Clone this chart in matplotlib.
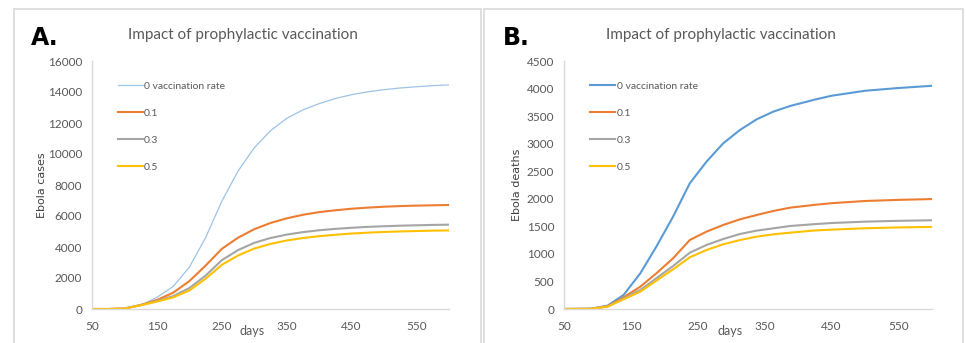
import matplotlib
matplotlib.use("Agg")
import matplotlib.pyplot as plt
from matplotlib.patches import Rectangle

plt.rcParams['font.family'] = ['Lato', 'DejaVu Sans']

# ---- data ----
series_labels = ['0 vaccination rate', '0.1', '0.3', '0.5']

days_a = [50, 75, 100, 125, 150, 175, 200, 225, 250, 275, 300, 325, 350, 375, 400,
          425, 450, 475, 500, 525, 550, 575, 600]
cases_0 = [0, 0, 30, 230, 750, 1450, 2700, 4600, 6950, 8900, 10400, 11500, 12300, 12850,
           13250, 13580, 13830, 14010, 14150, 14260, 14340, 14410, 14460]
cases_1 = [0, 0, 30, 260, 580, 1050, 1800, 2800, 3880, 4600, 5150, 5550, 5850, 6080,
           6250, 6370, 6470, 6540, 6600, 6640, 6670, 6690, 6710]
cases_3 = [0, 0, 30, 250, 520, 830, 1350, 2150, 3150, 3800, 4270, 4580, 4800, 4960,
           5080, 5170, 5240, 5300, 5340, 5375, 5400, 5425, 5440]
cases_5 = [0, 0, 25, 240, 480, 750, 1200, 1950, 2850, 3450, 3900, 4200, 4420, 4580,
           4700, 4790, 4870, 4925, 4970, 5005, 5030, 5055, 5070]

days_b = [50, 90, 115, 139, 164, 188, 213, 238, 263, 288, 313, 338, 363, 388,
          425, 450, 500, 550, 600]
deaths_0 = [0, 5, 60, 254, 647, 1131, 1676, 2281, 2674, 3007, 3249, 3442, 3582, 3684,
            3800, 3870, 3960, 4010, 4050]
deaths_1 = [0, 3, 50, 212, 405, 647, 920, 1252, 1404, 1525, 1627, 1706, 1779, 1839,
            1890, 1920, 1960, 1980, 1995]
deaths_3 = [0, 3, 45, 194, 345, 557, 780, 1022, 1162, 1270, 1361, 1422, 1464, 1506,
            1540, 1560, 1585, 1600, 1610]
deaths_5 = [0, 3, 42, 175, 315, 514, 720, 938, 1071, 1174, 1252, 1313, 1355, 1385,
            1425, 1440, 1465, 1480, 1490]

x_ticks = [50, 150, 250, 350, 450, 550]

colors = ['#5B9BD5', '#ED7D31', '#A5A5A5', '#FFC000']
grey_txt = '#595959'
spine_col = '#D9D9D9'

fig = plt.figure(figsize=(9.66, 3.43), dpi=100)

# panel frames
fig.patches.append(Rectangle((14 / 966, -0.05), 467 / 966, 1.05 - 9 / 343,
                             transform=fig.transFigure, fill=False,
                             edgecolor=spine_col, linewidth=1.2))
fig.patches.append(Rectangle((484 / 966, -0.05), 479 / 966, 1.05 - 9 / 343,
                             transform=fig.transFigure, fill=False,
                             edgecolor=spine_col, linewidth=1.2))


def setup_axes(rect, ymax, ystep, ylabel, ylab_x, letter, letter_x, title_x, days_x):
    ax = fig.add_axes(rect)
    ax.set_xlim(50, 600)
    ax.set_ylim(0, ymax)
    ax.set_xticks(x_ticks)
    ax.set_yticks(range(0, ymax + 1, ystep))
    for s in ['top', 'right']:
        ax.spines[s].set_visible(False)
    for s in ['left', 'bottom']:
        ax.spines[s].set_color(spine_col)
        ax.spines[s].set_linewidth(1.0)
    ax.tick_params(length=0, labelsize=8.5, labelcolor=grey_txt)
    ax.tick_params(axis='x', pad=9)
    ax.tick_params(axis='y', pad=7)
    ax.set_ylabel(ylabel, fontsize=8, color='#404040', family=['DejaVu Sans'])
    ax.yaxis.set_label_coords(ylab_x, 0.5)
    fig.text(letter_x / 966, 1 - 38 / 343, letter, fontsize=17, fontweight='bold',
             va='center', ha='left', family=['DejaVu Sans'])
    fig.text(title_x / 966, 1 - 35 / 343, 'Impact of prophylactic vaccination',
             fontsize=11, color=grey_txt, va='center', ha='center')
    fig.text(days_x / 966, 1 - 331 / 343, 'days', fontsize=9, color=grey_txt,
             va='center', ha='center')
    return ax


ax_a = setup_axes([92 / 966, 34 / 343, 357 / 966, 248 / 343], 16000, 2000,
                  'Ebola cases', -0.126, 'A.', 31, 243, 252)
ax_b = setup_axes([564 / 966, 34 / 343, 368 / 966, 248 / 343], 4500, 500,
                  'Ebola deaths', -0.114, 'B.', 503, 721, 730)

for ys, c, lab in zip([cases_0, cases_1, cases_3, cases_5], colors, series_labels):
    if lab == series_labels[0]:
        ax_a.plot(days_a, ys, color='#9DC3E6', linewidth=0.9, label=lab)
    else:
        ax_a.plot(days_a, ys, color=c, linewidth=1.5, label=lab)

for ys, c, lab in zip([deaths_0, deaths_1, deaths_3, deaths_5], colors, series_labels):
    ax_b.plot(days_b, ys, color=c, linewidth=1.5, label=lab)

for ax in (ax_a, ax_b):
    leg = ax.legend(loc='upper left', bbox_to_anchor=(0.06, 0.935), frameon=False,
                    fontsize=7.5, handlelength=2.4, handletextpad=0.15,
                    labelspacing=1.7, borderaxespad=0)
    for t in leg.get_texts():
        t.set_color(grey_txt)

fig.savefig('out.png', dpi=100)
